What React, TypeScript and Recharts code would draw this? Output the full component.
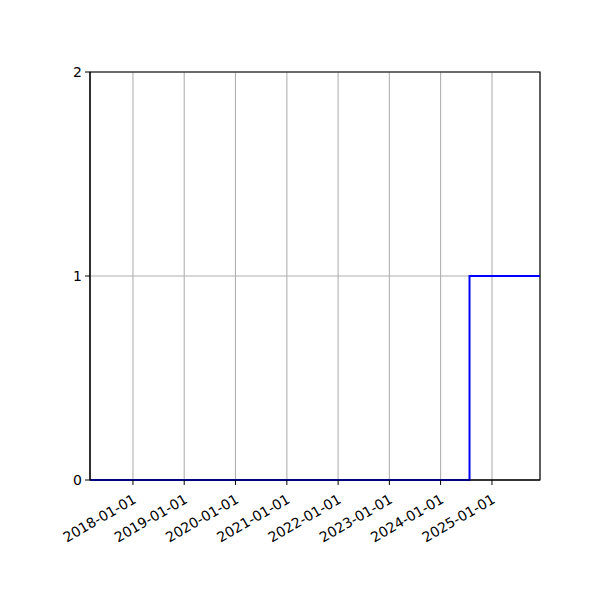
import React from "react";
import {
  CartesianGrid,
  Line,
  LineChart,
  ReferenceArea,
  XAxis,
  YAxis,
} from "recharts";

// step series
const dates = ["2017-03-01", "2024-07-25", "2025-12-09"];
const values = [0, 1, 1];

const xTicks = [
  "2018-01-01",
  "2019-01-01",
  "2020-01-01",
  "2021-01-01",
  "2022-01-01",
  "2023-01-01",
  "2024-01-01",
  "2025-01-01",
];
const yTicks = [0, 1, 2];

const ts = (d: string) => Date.parse(d + "T00:00:00Z");

const data = dates.map((d, i) => ({ t: ts(d), v: values[i] }));
const xMin = ts(dates[0]);
const xMax = ts(dates[dates.length - 1]);

const fmt = (t: number) => new Date(t).toISOString().slice(0, 10);

function DateTick(props: any) {
  const { x, y, payload } = props;
  return (
    <text
      transform={`translate(${x - 1},${y + 6}) rotate(-30)`}
      textAnchor="end"
      dominantBaseline="hanging"
      fontSize={14}
      fill="#000"
      fontFamily="DejaVu Sans"
    >
      {fmt(payload.value)}
    </text>
  );
}

export default function App() {
  return (
    <div style={{ width: 600, height: 600, fontFamily: "DejaVu Sans" }}>
      <LineChart
        width={600}
        height={600}
        data={data}
        margin={{ top: 64, right: 68, bottom: 18, left: 22 }}
      >
        <CartesianGrid stroke="#b0b0b0" strokeWidth={1.1} />
        <XAxis
          dataKey="t"
          type="number"
          scale="time"
          domain={[xMin, xMax]}
          ticks={xTicks.map(ts)}
          tick={<DateTick />}
          tickSize={5}
          height={110}
          stroke="#000"
          tickLine={{ stroke: "#000" }}
          interval={0}
          allowDataOverflow
        />
        <YAxis
          type="number"
          domain={[0, 2]}
          ticks={yTicks}
          width={60}
          tickSize={5}
          tickMargin={3}
          stroke="#000"
          tick={{ fill: "#000", fontSize: 14, fontFamily: "DejaVu Sans" }}
          tickLine={{ stroke: "#000" }}
          allowDecimals={false}
        />
        <Line
          type="stepAfter"
          dataKey="v"
          stroke="#0000ff"
          strokeWidth={2}
          dot={false}
          isAnimationActive={false}
        />
        <ReferenceArea
          x1={xMin}
          x2={xMax}
          y1={0}
          y2={2}
          fill="none"
          stroke="#000"
          strokeWidth={1.1}
          ifOverflow="visible"
        />
      </LineChart>
    </div>
  );
}
